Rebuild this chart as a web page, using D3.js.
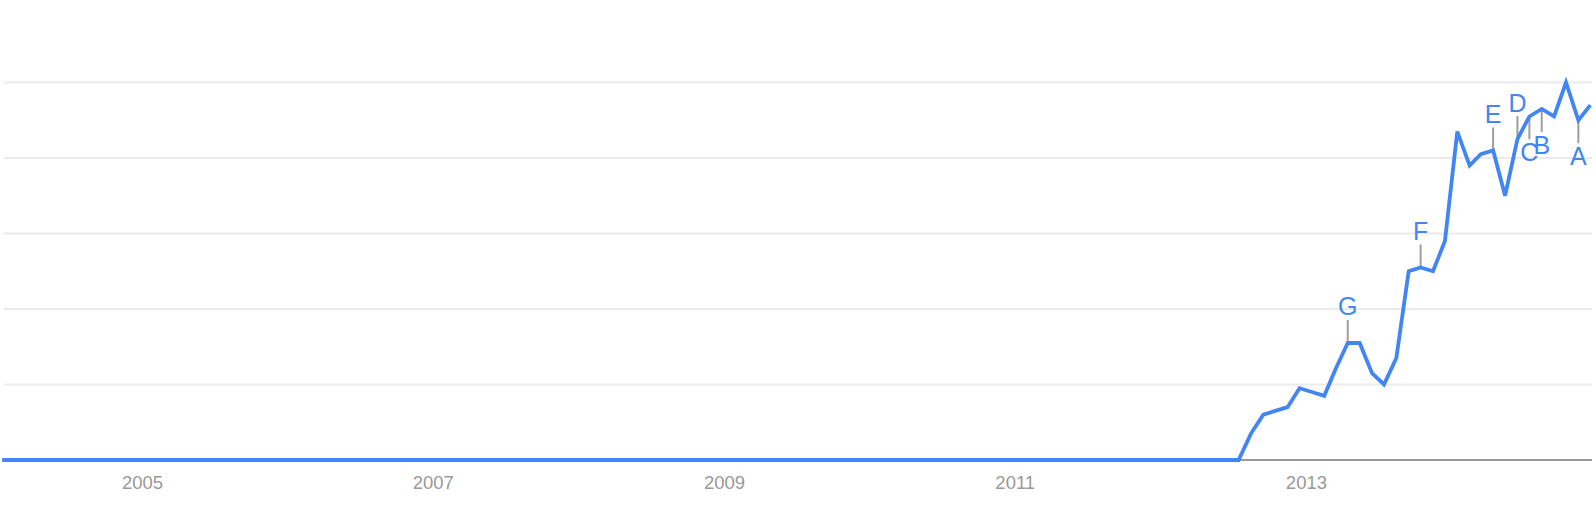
<!DOCTYPE html>
<html>
<head>
<meta charset="utf-8">
<script src="https://cdn.jsdelivr.net/npm/d3@7"></script>
<style>
  body { margin: 0; background: #fff; }
  svg { display: block; }
</style>
</head>
<body>
<div id="chart"></div>
<script>
// monthly search interest, one row per year (Jan..Dec), first month = Jan 2004
const firstYear = 2004;
const monthlyValues = [
  /* 2004 */ 0, 0, 0, 0, 0, 0, 0, 0, 0, 0, 0, 0,
  /* 2005 */ 0, 0, 0, 0, 0, 0, 0, 0, 0, 0, 0, 0,
  /* 2006 */ 0, 0, 0, 0, 0, 0, 0, 0, 0, 0, 0, 0,
  /* 2007 */ 0, 0, 0, 0, 0, 0, 0, 0, 0, 0, 0, 0,
  /* 2008 */ 0, 0, 0, 0, 0, 0, 0, 0, 0, 0, 0, 0,
  /* 2009 */ 0, 0, 0, 0, 0, 0, 0, 0, 0, 0, 0, 0,
  /* 2010 */ 0, 0, 0, 0, 0, 0, 0, 0, 0, 0, 0, 0,
  /* 2011 */ 0, 0, 0, 0, 0, 0, 0, 0, 0, 0, 0, 0,
  /* 2012 */ 0, 0, 0, 0, 0, 0, 0, 7, 12, 13, 14, 19,
  /* 2013 */ 18, 17, 24, 31, 31, 23, 20, 27, 50, 51, 50, 58,
  /* 2014 */ 87, 78, 81, 82, 70, 85, 91, 93, 91, 100, 90, 94
];

const tickYears = [2005, 2007, 2009, 2011, 2013];
const gridValues = [20, 40, 60, 80, 100];

// news headline markers
const markerLetters = ["A", "B", "C", "D", "E", "F", "G"];
const markerMonths = ["2014-11", "2014-08", "2014-07", "2014-06", "2014-04", "2013-10", "2013-04"];
const markerBelow = [true, true, true, false, false, false, false];

const width = 1596, height = 512;
const blue = "#4285f4";
const font = "Arial, 'Liberation Sans', Helvetica, sans-serif";

// points sit in the middle of their month
const data = monthlyValues.map((v, i) => ({date: new Date(firstYear, i, 16), value: v}));

const x = d3.scaleTime()
  .domain([new Date(2004, 0, 1), new Date(2015, 0, 1)])
  .range([-3.8, 1596.7]);

const y = d3.scaleLinear()
  .domain([0, 100])
  .range([460, 82.5]);

const svg = d3.select("#chart").append("svg")
  .attr("width", width)
  .attr("height", height)
  .style("font-family", font);

// horizontal grid
svg.append("g")
  .selectAll("line")
  .data(gridValues)
  .join("line")
    .attr("x1", 4)
    .attr("x2", 1592)
    .attr("y1", d => y(d))
    .attr("y2", d => y(d))
    .attr("stroke", "#ebebeb")
    .attr("stroke-width", 2);

// baseline
svg.append("line")
  .attr("x1", 2)
  .attr("x2", 1592)
  .attr("y1", y(0))
  .attr("y2", y(0))
  .attr("stroke", "#999")
  .attr("stroke-width", 1.8);

// year labels
const xAxis = svg.append("g")
  .attr("transform", `translate(0,${y(0)})`)
  .call(d3.axisBottom(x)
    .tickValues(tickYears.map(yr => new Date(yr, 0, 1)))
    .tickFormat(d3.timeFormat("%Y"))
    .tickSize(0)
    .tickPadding(15.5));
xAxis.select(".domain").remove();
xAxis.selectAll("text")
  .attr("fill", "#999")
  .style("font-size", "18.5px")
  .style("font-family", font);

// marker ticks under the line
const parseMonth = d3.timeParse("%Y-%m");
const markers = markerLetters.map((letter, i) => {
  const m = parseMonth(markerMonths[i]);
  const point = data.find(d => d.date.getFullYear() === m.getFullYear() && d.date.getMonth() === m.getMonth());
  return {letter, below: markerBelow[i], date: point.date, value: point.value};
});

const gMarkers = svg.append("g");
gMarkers.selectAll("line")
  .data(markers)
  .join("line")
    .attr("x1", d => x(d.date))
    .attr("x2", d => x(d.date))
    .attr("y1", d => y(d.value))
    .attr("y2", d => d.below ? y(d.value) + 23 : y(d.value) - 23)
    .attr("stroke", "#9e9e9e")
    .attr("stroke-width", 2);

// the trend line
svg.append("path")
  .datum(data)
  .attr("fill", "none")
  .attr("stroke", blue)
  .attr("stroke-width", 3.8)
  .attr("d", d3.line().x(d => x(d.date)).y(d => y(d.value)));

gMarkers.selectAll("text")
  .data(markers)
  .join("text")
    .attr("x", d => x(d.date))
    .attr("y", d => d.below ? y(d.value) + 45 : y(d.value) - 27.5)
    .attr("text-anchor", "middle")
    .attr("fill", blue)
    .style("font-size", "25px")
    .text(d => d.letter);
</script>
</body>
</html>
